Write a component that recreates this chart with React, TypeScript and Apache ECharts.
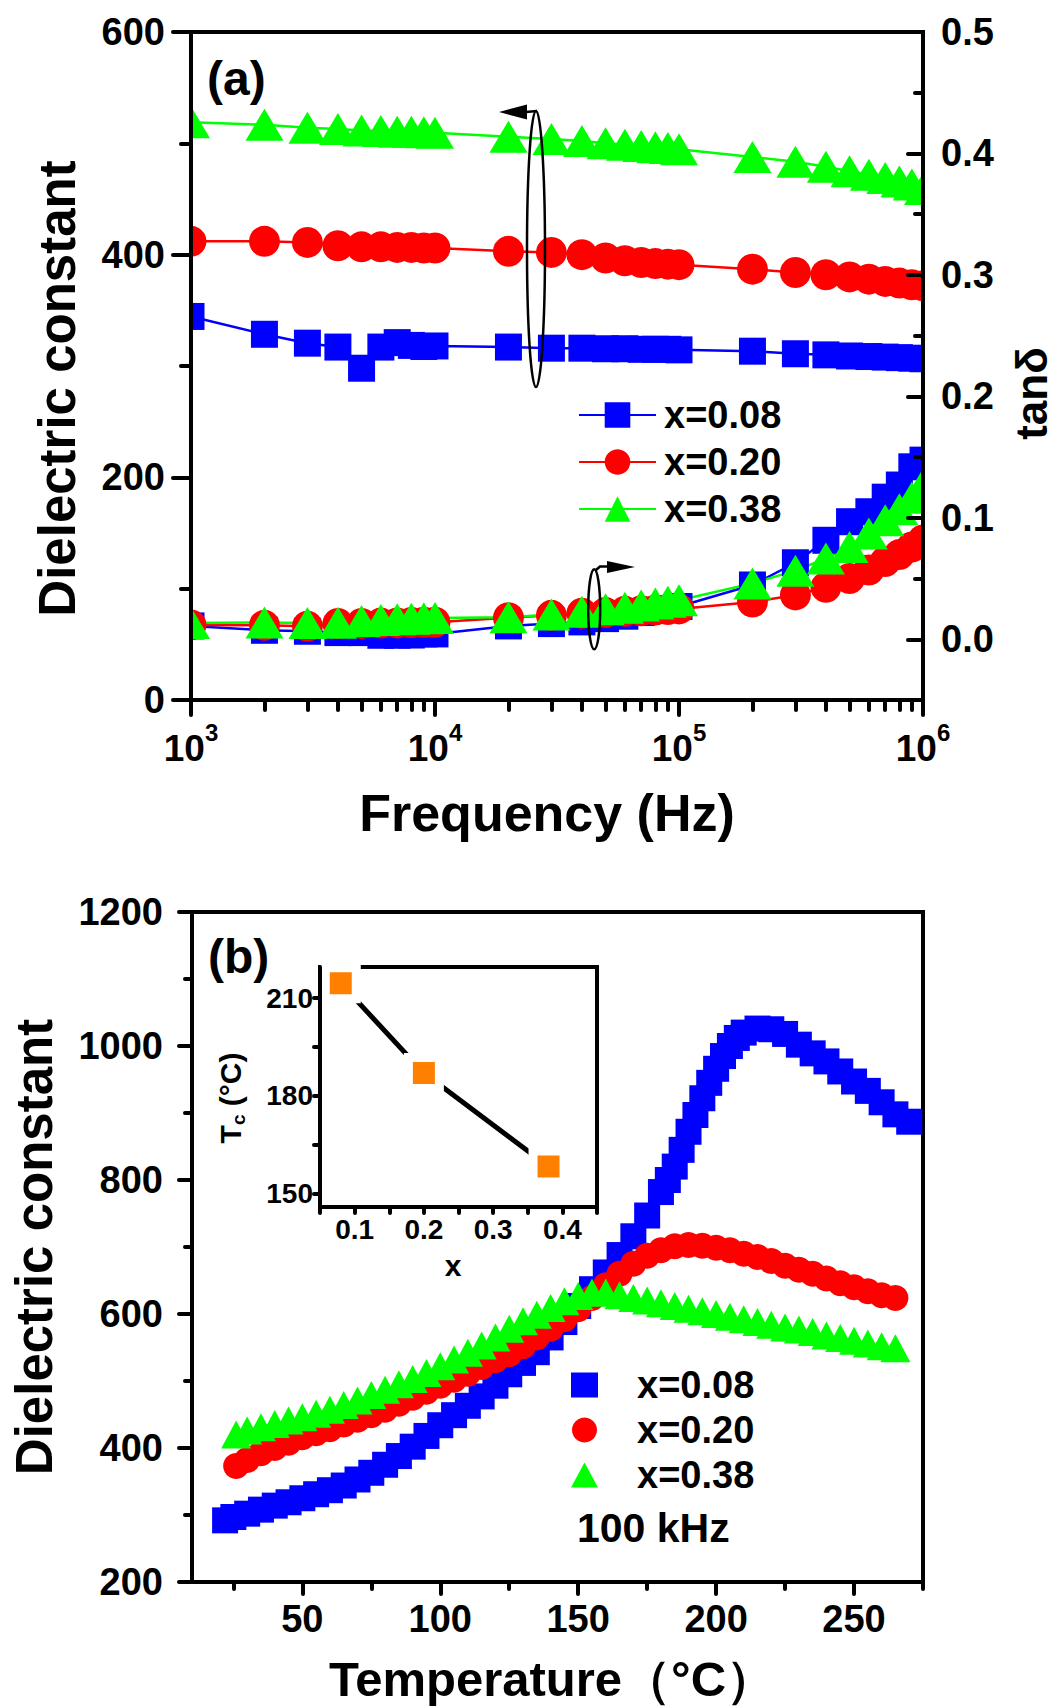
import React, { useEffect, useRef } from 'react';
import * as echarts from 'echarts';

// ---------- Panel (a): dielectric constant & tan(delta) vs frequency ----------
const FREQ = [1e3, 2e3, 3e3, 4e3, 5e3, 6e3, 7e3, 8e3, 9e3, 1e4, 2e4, 3e4, 4e4, 5e4, 6e4, 7e4, 8e4, 9e4, 1e5, 2e5, 3e5, 4e5, 5e5, 6e5, 7e5, 8e5, 9e5, 1e6];
const EPS_A_008 = [344.5, 328.5, 320.5, 317, 298, 317, 321, 318.5, 317.5, 318, 317, 316, 316, 315.5, 315.5, 315, 315, 315, 314.5, 313.3, 311, 310, 309, 308.5, 308, 307.5, 307, 306.5];
const EPS_A_020 = [412, 412, 411, 408, 407, 407, 406.5, 406.5, 406, 406, 403, 402, 400, 397, 394.5, 393, 392, 391.5, 391, 387, 384, 382, 380, 378, 376, 374.5, 373, 372];
const EPS_A_038 = [519, 516.7, 514, 512.8, 511.6, 511, 510.5, 510.4, 510, 509.5, 506, 504, 502, 500, 498.7, 497.7, 496.5, 495.7, 494.7, 487.8, 483.5, 479, 475, 471.8, 468.8, 465.8, 463, 459];
const TAN_A_008 = [0.011, 0.0074, 0.0066, 0.0055, 0.0055, 0.0033, 0.0033, 0.0035, 0.0044, 0.0044, 0.011, 0.0129, 0.0143, 0.017, 0.019, 0.022, 0.0239, 0.025, 0.027, 0.0447, 0.063, 0.0815, 0.0968, 0.105, 0.117, 0.127, 0.142, 0.1475];
const TAN_A_020 = [0.0118, 0.0115, 0.0107, 0.013, 0.013, 0.0133, 0.0135, 0.0138, 0.014, 0.014, 0.0178, 0.0197, 0.0214, 0.022, 0.023, 0.0235, 0.024, 0.0245, 0.025, 0.0307, 0.0365, 0.0428, 0.05, 0.057, 0.064, 0.0697, 0.076, 0.0817];
const TAN_A_038 = [0.0134, 0.0138, 0.0134, 0.0137, 0.015, 0.0159, 0.0164, 0.0169, 0.0173, 0.0175, 0.0181, 0.0203, 0.0226, 0.0248, 0.026, 0.0278, 0.0295, 0.0309, 0.0322, 0.046, 0.0565, 0.0665, 0.076, 0.087, 0.098, 0.107, 0.1166, 0.1275];

const FREQ_TICKS_MAJOR = [1e3, 1e4, 1e5, 1e6];
const FREQ_TICKS_MINOR = [2e3, 3e3, 4e3, 5e3, 6e3, 7e3, 8e3, 9e3, 2e4, 3e4, 4e4, 5e4, 6e4, 7e4, 8e4, 9e4, 2e5, 3e5, 4e5, 5e5, 6e5, 7e5, 8e5, 9e5];
const TAN_TICKS = [0, 0.1, 0.2, 0.3, 0.4, 0.5];
const TAN_TICKS_MINOR = [0.05, 0.15, 0.25, 0.35, 0.45];

// ---------- Panel (b): dielectric constant vs temperature at 100 kHz ----------
const TEMP_B_008 = [22, 25, 30, 35, 40, 45, 50, 55, 60, 65, 70, 75, 80, 85, 90, 95, 100, 105, 110, 115, 120, 125, 130, 135, 140, 145, 150, 155, 160, 165, 170, 175, 180, 182.5, 185, 187.5, 190, 192.5, 195, 197.5, 200, 202.5, 205, 207.5, 210, 215, 220, 225, 230, 235, 240, 245, 250, 255, 260, 265, 270];
const EPS_B_008 = [292, 297, 302, 308, 314, 319, 325, 331, 337, 344, 353, 363, 375, 388, 402, 418, 434, 449, 463, 477, 493, 510, 527, 543, 565, 588, 612, 637, 662, 688, 716, 747, 782, 800, 820, 845, 872, 897, 922, 945, 966, 985, 1000, 1012, 1020, 1026, 1025, 1018, 1002, 989, 977, 962, 947, 933, 916, 898, 887];
const TEMP_B_020 = [26, 30, 35, 40, 45, 50, 55, 60, 65, 70, 75, 80, 85, 90, 95, 100, 105, 110, 115, 120, 125, 130, 135, 140, 145, 150, 155, 160, 165, 170, 175, 180, 185, 190, 195, 200, 205, 210, 215, 220, 225, 230, 235, 240, 245, 250, 255, 260, 265];
const EPS_B_020 = [373, 382, 392, 400, 408, 416, 422, 428, 435, 442, 449, 457, 466, 475, 484, 493, 502, 511, 521, 531, 540, 552, 565, 578, 592, 607, 624, 643, 660, 675, 687, 695, 701, 703, 702, 699, 695, 690, 685, 679, 672, 666, 660, 653, 646, 640, 634, 628, 624];
const TEMP_B_038 = [26, 30, 35, 40, 45, 50, 55, 60, 65, 70, 75, 80, 85, 90, 95, 100, 105, 110, 115, 120, 125, 130, 135, 140, 145, 150, 155, 160, 165, 170, 175, 180, 185, 190, 195, 200, 205, 210, 215, 220, 225, 230, 235, 240, 245, 250, 255, 260, 265];
const EPS_B_038 = [420, 426, 431, 436, 441, 446, 451, 457, 464, 471, 479, 487, 495, 503, 512, 522, 532, 542, 553, 565, 578, 589, 599, 609, 619, 627, 632, 632, 628, 624, 620, 616, 612, 608, 604, 600, 596, 592, 588, 584, 580, 577, 573, 568, 564, 560, 556, 552, 549];

const TEMP_TICKS_MAJOR = [50, 100, 150, 200, 250];
const TEMP_TICKS_MINOR = [25, 75, 125, 175, 225, 275];

// ---------- Inset: Tc vs x ----------
const X_INSET = [0.08, 0.2, 0.38];
const TC_INSET = [214.5, 187, 158.4];
const INSET_X_LABELS = [0.1, 0.2, 0.3, 0.4];
const INSET_X_TICKS = [0.05, 0.1, 0.15, 0.2, 0.25, 0.3, 0.35, 0.4, 0.45];
const INSET_Y_LABELS = [150, 180, 210];
const INSET_Y_TICKS = [150, 165, 180, 195, 210];

const NAMES = ['x=0.08', 'x=0.20', 'x=0.38'];
const COLORS = ['#0000FF', '#FF0000', '#00FF00'];

const FONT = "'Liberation Sans', Arial, Helvetica, sans-serif";
const txt = (size: number) => ({ fontSize: size, fontWeight: 'bold' as const, fontFamily: FONT, color: '#000' });
const axisLine = { show: true, onZero: false, lineStyle: { color: '#000', width: 4, cap: 'round' } };
const tick = (length: number, inside = false) => ({ show: true, inside, length, lineStyle: { color: '#000', width: 4, cap: 'round' } });
const plain = (v: number) => String(v);

function buildOption() {
  const zip = (xs: number[], ys: number[]) => xs.map((x, i) => [x, ys[i]]);
  const symA = ['rect', 'circle', 'triangle'];
  const sizeA: any[] = [27, 31, [38, 32]];
  const epsA = [EPS_A_008, EPS_A_020, EPS_A_038];
  const tanA = [TAN_A_008, TAN_A_020, TAN_A_038];
  const tB = [TEMP_B_008, TEMP_B_020, TEMP_B_038];
  const eB = [EPS_B_008, EPS_B_020, EPS_B_038];
  const sizeB: any[] = [26, 26, [30, 28]];

  const series: any[] = [];
  for (let i = 0; i < 3; i++) {
    series.push({
      name: NAMES[i], type: 'line', xAxisIndex: 0, yAxisIndex: 0,
      data: zip(FREQ, epsA[i]), symbol: symA[i], symbolSize: sizeA[i],
      itemStyle: { color: COLORS[i] }, lineStyle: { color: COLORS[i], width: 2.5 },
      emphasis: { disabled: true }, clip: false, z: 2,
    });
  }
  for (let i = 0; i < 3; i++) {
    series.push({
      name: NAMES[i], type: 'line', xAxisIndex: 0, yAxisIndex: 1,
      data: zip(FREQ, tanA[i]), symbol: symA[i], symbolSize: sizeA[i],
      itemStyle: { color: COLORS[i] }, lineStyle: { color: COLORS[i], width: 2.5 },
      emphasis: { disabled: true }, clip: false, z: 2,
    });
  }
  for (let i = 0; i < 3; i++) {
    series.push({
      name: NAMES[i], type: 'scatter', xAxisIndex: 2, yAxisIndex: 3,
      data: zip(tB[i], eB[i]), symbol: symA[i], symbolSize: sizeB[i],
      itemStyle: { color: COLORS[i], opacity: 1 },
      emphasis: { disabled: true }, z: 2,
    });
  }
  series.push({
    name: 'Tc', type: 'line', xAxisIndex: 4, yAxisIndex: 4,
    data: zip(X_INSET, TC_INSET), symbol: 'rect', symbolSize: 31,
    itemStyle: { color: '#FF8000', borderColor: '#FFFFFF', borderWidth: 9 },
    lineStyle: { color: '#000', width: 5 }, emphasis: { disabled: true }, z: 3,
  });

  const common = { splitLine: { show: false }, minorSplitLine: { show: false }, z: 10, nameMoveOverlap: false };

  return {
    animation: false,
    backgroundColor: '#FFFFFF',
    textStyle: { fontFamily: FONT, fontWeight: 'bold', color: '#000' },
    grid: [
      { left: 191, top: 32, width: 732, height: 668, show: true, borderColor: '#000', borderWidth: 4, containLabel: false, outerBoundsMode: 'none' },
      { left: 192, top: 912, width: 731, height: 670, show: true, borderColor: '#000', borderWidth: 4, containLabel: false, outerBoundsMode: 'none' },
      { left: 320, top: 967, width: 277, height: 240, show: true, borderColor: '#000', borderWidth: 4, backgroundColor: '#FFFFFF', containLabel: false, outerBoundsMode: 'none', z: 3 },
    ],
    xAxis: [
      {
        ...common, type: 'log', gridIndex: 0, logBase: 10, min: 1e3, max: 1e6, position: 'bottom',
        axisLine, axisTick: { ...tick(15), customValues: FREQ_TICKS_MAJOR }, minorTick: { show: false },
        axisLabel: {
          customValues: FREQ_TICKS_MAJOR, margin: 20,
          formatter: (v: number) => `{b|10}{s|${Math.round(Math.log10(v))}}`,
          rich: { b: { ...txt(37), lineHeight: 56 }, s: { ...txt(24), verticalAlign: 'top' } },
        },
        name: 'Frequency (Hz)', nameLocation: 'middle', nameGap: 87,
        nameTextStyle: { ...txt(52), padding: [0, 20, 0, 0] },
      },
      {
        ...common, type: 'log', gridIndex: 0, logBase: 10, min: 1e3, max: 1e6, position: 'bottom',
        axisLine: { show: false }, axisTick: { ...tick(10), customValues: FREQ_TICKS_MINOR },
        axisLabel: { show: false }, minorTick: { show: false },
      },
      {
        ...common, type: 'value', gridIndex: 1, min: 10, max: 275, position: 'bottom',
        axisLine, axisTick: { ...tick(12), customValues: TEMP_TICKS_MAJOR },
        axisLabel: { ...txt(38), customValues: TEMP_TICKS_MAJOR, margin: 18, formatter: plain },
        name: 'Temperature（°C）', nameLocation: 'middle', nameGap: 72,
        nameTextStyle: { ...txt(49), lineHeight: 49, padding: [0, 11, 0, 0] },
      },
      {
        ...common, type: 'value', gridIndex: 1, min: 10, max: 275, position: 'bottom',
        axisLine: { show: false }, axisTick: { ...tick(7), customValues: TEMP_TICKS_MINOR },
        axisLabel: { show: false },
      },
      {
        ...common, type: 'value', gridIndex: 2, min: 0.05, max: 0.45, position: 'bottom',
        axisLine, axisTick: { ...tick(6), customValues: INSET_X_TICKS },
        axisLabel: { ...txt(28), customValues: INSET_X_LABELS, margin: 8, formatter: (v: number) => v.toFixed(1) },
        name: 'x', nameLocation: 'middle', nameGap: 43,
        nameTextStyle: { ...txt(30), padding: [0, 11, 0, 0] },
      },
    ],
    yAxis: [
      {
        ...common, type: 'value', gridIndex: 0, min: 0, max: 600, interval: 200, position: 'left',
        axisLine, axisTick: tick(18),
        minorTick: { show: true, splitNumber: 2, length: 10, lineStyle: { color: '#000', width: 4, cap: 'round' } },
        axisLabel: { ...txt(38), margin: 26, formatter: plain },
        name: 'Dielectric constant', nameLocation: 'middle', nameRotate: 90, nameGap: 108,
        nameTextStyle: { ...txt(51), padding: [0, 45, 0, 0] },
      },
      {
        ...common, type: 'value', gridIndex: 0, min: -0.05, max: 0.5, position: 'right',
        axisLine, axisTick: { ...tick(15, true), customValues: TAN_TICKS },
        axisLabel: { ...txt(38), customValues: TAN_TICKS, margin: 18, formatter: (v: number) => v.toFixed(1) },
        name: 'tanδ', nameLocation: 'middle', nameRotate: 90, nameGap: 86,
        nameTextStyle: { ...txt(44), padding: [0, 55, 0, 0] },
      },
      {
        ...common, type: 'value', gridIndex: 0, min: -0.05, max: 0.5, position: 'right',
        axisLine: { show: false }, axisTick: { ...tick(8, true), customValues: TAN_TICKS_MINOR },
        axisLabel: { show: false },
      },
      {
        ...common, type: 'value', gridIndex: 1, min: 200, max: 1200, interval: 200, position: 'left',
        axisLine, axisTick: tick(13),
        minorTick: { show: true, splitNumber: 2, length: 7, lineStyle: { color: '#000', width: 4, cap: 'round' } },
        axisLabel: { ...txt(38), margin: 29, formatter: plain },
        name: 'Dielectric constant', nameLocation: 'middle', nameRotate: 90, nameGap: 132,
        nameTextStyle: { ...txt(51) },
      },
      {
        ...common, type: 'value', gridIndex: 2, min: 146, max: 219.5, position: 'left',
        axisLine, axisTick: { ...tick(6), customValues: INSET_Y_TICKS },
        axisLabel: { ...txt(28), customValues: INSET_Y_LABELS, margin: 7, formatter: plain },
        name: '{n|T}{s|c}{n| (°C)}', nameLocation: 'middle', nameRotate: 90, nameGap: 72,
        nameTextStyle: {
          ...txt(30), padding: [0, 22, 0, 0],
          rich: { n: { ...txt(30), lineHeight: 36 }, s: { ...txt(19), verticalAlign: 'bottom' } },
        },
      },
    ],
    legend: [
      {
        orient: 'vertical', left: 578, top: 396, padding: 0, itemWidth: 77, itemHeight: 32, itemGap: 9,
        textStyle: { ...txt(38), padding: [0, 0, 0, 3] }, data: NAMES, selectedMode: false,
      },
      {
        orient: 'vertical', left: 571, top: 1366, padding: 0, itemWidth: 27, itemHeight: 25, itemGap: 7,
        textStyle: { ...txt(38), padding: [0, 0, 0, 34] }, selectedMode: false,
        data: [
          { name: NAMES[0], icon: 'rect' },
          { name: NAMES[1], icon: 'circle' },
          { name: NAMES[2], icon: 'triangle' },
        ],
      },
    ],
    graphic: [
      // white masks so edge markers look clipped at the frame (panel a)
      { type: 'rect', z: 5, shape: { x: 150, y: 28, width: 39, height: 672 }, style: { fill: '#FFFFFF' } },
      { type: 'rect', z: 5, shape: { x: 925, y: 28, width: 40, height: 672 }, style: { fill: '#FFFFFF' } },
      // panel labels
      { type: 'text', z: 20, x: 207, y: 78, style: { text: '(a)', fontSize: 48, fontWeight: 'bold', fontFamily: FONT, fill: '#000', textAlign: 'left', align: 'left', textVerticalAlign: 'middle', verticalAlign: 'middle' } },
      { type: 'text', z: 20, x: 208, y: 956, style: { text: '(b)', fontSize: 48, fontWeight: 'bold', fontFamily: FONT, fill: '#000', textAlign: 'left', align: 'left', textVerticalAlign: 'middle', verticalAlign: 'middle' } },
      { type: 'text', z: 20, x: 577, y: 1528, style: { text: '100 kHz', fontSize: 41, fontWeight: 'bold', fontFamily: FONT, fill: '#000', textAlign: 'left', align: 'left', textVerticalAlign: 'middle', verticalAlign: 'middle' } },
      // ellipse + arrow pointing to the left axis
      { type: 'ellipse', z: 20, shape: { cx: 536, cy: 249, rx: 9, ry: 138 }, style: { fill: 'none', stroke: '#000', lineWidth: 2.5 } },
      { type: 'polyline', z: 20, shape: { points: [[537, 111], [526, 112]] }, style: { stroke: '#000', lineWidth: 2.5, fill: 'none' } },
      { type: 'polygon', z: 20, shape: { points: [[499, 112], [527, 104.5], [527, 119.5]] }, style: { fill: '#000' } },
      // ellipse + arrow pointing to the right axis
      { type: 'ellipse', z: 20, shape: { cx: 594.2, cy: 609.3, rx: 6, ry: 40 }, style: { fill: 'none', stroke: '#000', lineWidth: 2.5 } },
      { type: 'polyline', z: 20, shape: { points: [[596, 570], [600, 566.5], [608, 566.5]] }, style: { stroke: '#000', lineWidth: 2.5, fill: 'none' } },
      { type: 'polygon', z: 20, shape: { points: [[635, 567], [607, 561], [607, 573]] }, style: { fill: '#000' } },
    ],
    series,
  };
}

export default function App() {
  const ref = useRef<HTMLDivElement>(null);
  useEffect(() => {
    if (!ref.current) return;
    const chart = echarts.init(ref.current, null, { renderer: 'svg' });
    chart.setOption(buildOption() as any);
    return () => chart.dispose();
  }, []);
  return <div ref={ref} style={{ position: 'absolute', left: 0, top: 0, width: 1059, height: 1706, background: '#fff' }} />;
}
